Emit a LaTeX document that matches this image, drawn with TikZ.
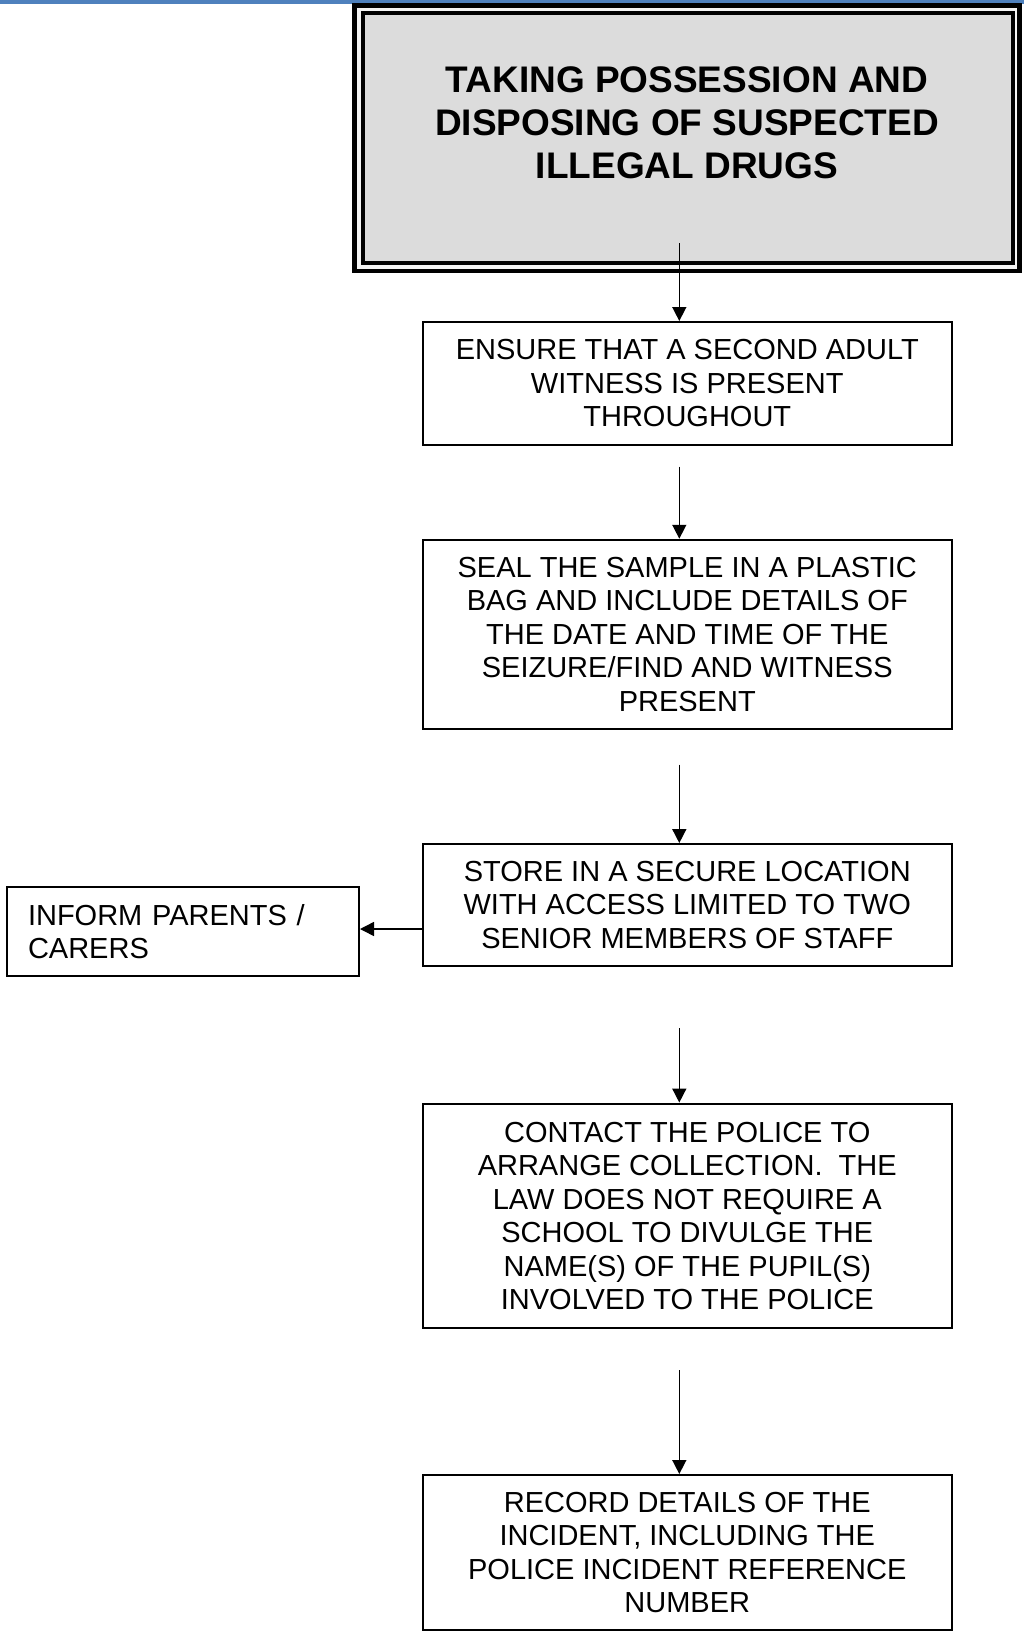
\documentclass[tikz,border=0pt]{standalone}
\usepackage{fontspec}
\setmainfont{Liberation Sans}
\usetikzlibrary{arrows.meta}
\definecolor{topblue}{HTML}{4F81BD}
\definecolor{titlegray}{HTML}{DCDCDC}
\tikzset{
  stepbox/.style={draw=black, line width=2pt, align=center, inner sep=0pt,
    minimum width=529.3pt, font=\fontsize{29}{33.5}\selectfont},
  arr/.style={line width=1.5pt, -{Triangle[length=14pt,width=14pt]}}
}
\begin{document}
\begin{tikzpicture}[x=1pt,y=-1pt]
\useasboundingbox (0,0) rectangle (1024,1640);
\fill[white] (0,0) rectangle (1024,1640);
% top blue rule
\fill[topblue] (0,0) rectangle (1024,4);
% title box (thick-thin double border)
\node[draw=black, line width=4.5pt, fill=white!70!titlegray, minimum width=664.8pt, minimum height=265.5pt, inner sep=0pt] (title) at (687.1,138.05) {};
\node[draw=black, line width=4pt, fill=titlegray, minimum width=649.8pt, minimum height=249.5pt, inner sep=0pt] (titleinner) at (687.9,138.05) {};
\node[align=center, inner sep=0pt, font=\fontsize{37}{43}\selectfont\bfseries] (titletext) at (687,123) {TAKING POSSESSION AND\\DISPOSING OF SUSPECTED\\ILLEGAL DRUGS};
% step boxes
\node[stepbox, minimum height=122.6pt] (b1) at (687.25,383.3) {ENSURE THAT A SECOND ADULT\\WITNESS IS PRESENT\\THROUGHOUT};
\node[stepbox, minimum height=189.3pt] (b2) at (687.25,634.4) {SEAL THE SAMPLE IN A PLASTIC\\BAG AND INCLUDE DETAILS OF\\THE DATE AND TIME OF THE\\SEIZURE/FIND AND WITNESS\\PRESENT};
\node[stepbox, minimum height=121.5pt] (b3) at (687.25,904.8) {STORE IN A SECURE LOCATION\\WITH ACCESS LIMITED TO TWO\\SENIOR MEMBERS OF STAFF};
\node[draw=black, line width=2pt, align=left, inner xsep=21pt, inner ysep=0pt, text width=310pt, minimum height=89pt, font=\fontsize{29}{33.5}\selectfont] (inform) at (183,931.5) {INFORM PARENTS /\\CARERS};
\node[stepbox, minimum height=224.9pt] (b4) at (687.25,1216) {CONTACT THE POLICE TO\\ARRANGE COLLECTION.\ \ THE\\LAW DOES NOT REQUIRE A\\SCHOOL TO DIVULGE THE\\NAME(S) OF THE PUPIL(S)\\INVOLVED TO THE POLICE};
\node[stepbox, minimum height=155pt] (b5) at (687.25,1552.5) {RECORD DETAILS OF THE\\INCIDENT, INCLUDING THE\\POLICE INCIDENT REFERENCE\\NUMBER};
% connector start points
\coordinate (a1) at (679.3,243);
\coordinate (a2) at (679.3,466.5);
\coordinate (a3) at (679.3,764.6);
\coordinate (a4) at (679.3,1028);
\coordinate (a5) at (679.3,1370);
\coordinate (hy) at (0,929);
\draw[arr] (a1) -- (b1.north -| a1);
\draw[arr] (a2) -- (b2.north -| a2);
\draw[arr] (a3) -- (b3.north -| a3);
\draw[arr] (a4) -- (b4.north -| a4);
\draw[arr] (a5) -- (b5.north -| a5);
\draw[arr] (b3.west |- hy) -- (inform.east |- hy);
\end{tikzpicture}
\end{document}
